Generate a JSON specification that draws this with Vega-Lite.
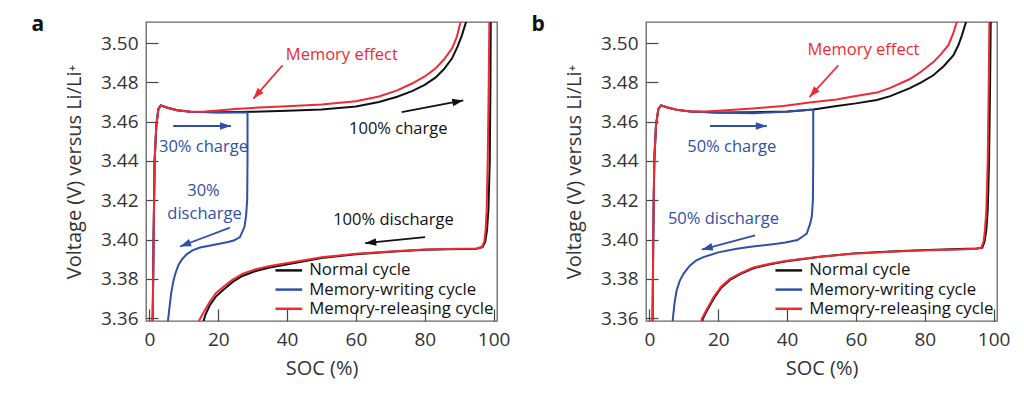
{
  "$schema": "https://vega.github.io/schema/vega-lite/v6.json",
  "padding": {"left": 30, "top": 13, "right": 5, "bottom": 5},
  "datasets": {
    "curves": [
      {"p":"a","c":"Normal cycle","k":"ch","soc":0.9,"v":3.352},{"p":"a","c":"Normal cycle","k":"ch","soc":1.2,"v":3.40},{"p":"a","c":"Normal cycle","k":"ch","soc":1.5,"v":3.44},{"p":"a","c":"Normal cycle","k":"ch","soc":2.0,"v":3.458},{"p":"a","c":"Normal cycle","k":"ch","soc":2.6,"v":3.4665},{"p":"a","c":"Normal cycle","k":"ch","soc":3.3,"v":3.4683},{"p":"a","c":"Normal cycle","k":"ch","soc":5,"v":3.4672},{"p":"a","c":"Normal cycle","k":"ch","soc":8,"v":3.4658},{"p":"a","c":"Normal cycle","k":"ch","soc":12,"v":3.4651},{"p":"a","c":"Normal cycle","k":"ch","soc":20,"v":3.4648},{"p":"a","c":"Normal cycle","k":"ch","soc":30,"v":3.4650},{"p":"a","c":"Normal cycle","k":"ch","soc":40,"v":3.4655},{"p":"a","c":"Normal cycle","k":"ch","soc":50,"v":3.4662},{"p":"a","c":"Normal cycle","k":"ch","soc":60,"v":3.4677},{"p":"a","c":"Normal cycle","k":"ch","soc":66.7,"v":3.4700},{"p":"a","c":"Normal cycle","k":"ch","soc":72,"v":3.4727},{"p":"a","c":"Normal cycle","k":"ch","soc":76.3,"v":3.4755},{"p":"a","c":"Normal cycle","k":"ch","soc":80,"v":3.4787},{"p":"a","c":"Normal cycle","k":"ch","soc":83.1,"v":3.4824},{"p":"a","c":"Normal cycle","k":"ch","soc":85.5,"v":3.4865},{"p":"a","c":"Normal cycle","k":"ch","soc":87.9,"v":3.4921},{"p":"a","c":"Normal cycle","k":"ch","soc":89.5,"v":3.498},{"p":"a","c":"Normal cycle","k":"ch","soc":90.8,"v":3.5039},{"p":"a","c":"Normal cycle","k":"ch","soc":92,"v":3.5107},{"p":"a","c":"Normal cycle","k":"ch","soc":92.5,"v":3.515},
      {"p":"a","c":"Normal cycle","k":"dis","soc":99.2,"v":3.515},{"p":"a","c":"Normal cycle","k":"dis","soc":99.1,"v":3.48},{"p":"a","c":"Normal cycle","k":"dis","soc":98.9,"v":3.44},{"p":"a","c":"Normal cycle","k":"dis","soc":98.5,"v":3.415},{"p":"a","c":"Normal cycle","k":"dis","soc":98.1,"v":3.405},{"p":"a","c":"Normal cycle","k":"dis","soc":97.6,"v":3.399},{"p":"a","c":"Normal cycle","k":"dis","soc":96.8,"v":3.3962},{"p":"a","c":"Normal cycle","k":"dis","soc":95,"v":3.3954},{"p":"a","c":"Normal cycle","k":"dis","soc":90,"v":3.3952},{"p":"a","c":"Normal cycle","k":"dis","soc":80,"v":3.3949},{"p":"a","c":"Normal cycle","k":"dis","soc":70,"v":3.3938},{"p":"a","c":"Normal cycle","k":"dis","soc":60,"v":3.3925},{"p":"a","c":"Normal cycle","k":"dis","soc":50,"v":3.3906},{"p":"a","c":"Normal cycle","k":"dis","soc":40.6,"v":3.3876},{"p":"a","c":"Normal cycle","k":"dis","soc":35,"v":3.3858},{"p":"a","c":"Normal cycle","k":"dis","soc":30.9,"v":3.3840},{"p":"a","c":"Normal cycle","k":"dis","soc":27,"v":3.3815},{"p":"a","c":"Normal cycle","k":"dis","soc":24.2,"v":3.3785},{"p":"a","c":"Normal cycle","k":"dis","soc":21.5,"v":3.3745},{"p":"a","c":"Normal cycle","k":"dis","soc":19.3,"v":3.3710},{"p":"a","c":"Normal cycle","k":"dis","soc":17.5,"v":3.3665},{"p":"a","c":"Normal cycle","k":"dis","soc":16.2,"v":3.3615},{"p":"a","c":"Normal cycle","k":"dis","soc":15.5,"v":3.357},
      {"p":"a","c":"Memory-writing cycle","k":"ch","soc":0.9,"v":3.352},{"p":"a","c":"Memory-writing cycle","k":"ch","soc":1.2,"v":3.40},{"p":"a","c":"Memory-writing cycle","k":"ch","soc":1.5,"v":3.44},{"p":"a","c":"Memory-writing cycle","k":"ch","soc":2.0,"v":3.458},{"p":"a","c":"Memory-writing cycle","k":"ch","soc":2.6,"v":3.4665},{"p":"a","c":"Memory-writing cycle","k":"ch","soc":3.3,"v":3.4683},{"p":"a","c":"Memory-writing cycle","k":"ch","soc":5,"v":3.4672},{"p":"a","c":"Memory-writing cycle","k":"ch","soc":8,"v":3.4658},{"p":"a","c":"Memory-writing cycle","k":"ch","soc":12,"v":3.4650},{"p":"a","c":"Memory-writing cycle","k":"ch","soc":20,"v":3.4646},{"p":"a","c":"Memory-writing cycle","k":"ch","soc":28.5,"v":3.4646},
      {"p":"a","c":"Memory-writing cycle","k":"dis","soc":28.5,"v":3.4646},{"p":"a","c":"Memory-writing cycle","k":"dis","soc":28.5,"v":3.44},{"p":"a","c":"Memory-writing cycle","k":"dis","soc":28.4,"v":3.42},{"p":"a","c":"Memory-writing cycle","k":"dis","soc":28.1,"v":3.4125},{"p":"a","c":"Memory-writing cycle","k":"dis","soc":27.6,"v":3.4064},{"p":"a","c":"Memory-writing cycle","k":"dis","soc":26.3,"v":3.4013},{"p":"a","c":"Memory-writing cycle","k":"dis","soc":24.5,"v":3.3995},{"p":"a","c":"Memory-writing cycle","k":"dis","soc":22.5,"v":3.3987},{"p":"a","c":"Memory-writing cycle","k":"dis","soc":18.5,"v":3.3973},{"p":"a","c":"Memory-writing cycle","k":"dis","soc":14.7,"v":3.3960},{"p":"a","c":"Memory-writing cycle","k":"dis","soc":12.5,"v":3.3945},{"p":"a","c":"Memory-writing cycle","k":"dis","soc":10.8,"v":3.3925},{"p":"a","c":"Memory-writing cycle","k":"dis","soc":9.4,"v":3.3898},{"p":"a","c":"Memory-writing cycle","k":"dis","soc":8.4,"v":3.3870},{"p":"a","c":"Memory-writing cycle","k":"dis","soc":7.5,"v":3.3825},{"p":"a","c":"Memory-writing cycle","k":"dis","soc":6.9,"v":3.3785},{"p":"a","c":"Memory-writing cycle","k":"dis","soc":6.3,"v":3.3725},{"p":"a","c":"Memory-writing cycle","k":"dis","soc":5.8,"v":3.3650},{"p":"a","c":"Memory-writing cycle","k":"dis","soc":5.4,"v":3.3590},{"p":"a","c":"Memory-writing cycle","k":"dis","soc":5.3,"v":3.356},
      {"p":"a","c":"Memory-releasing cycle","k":"ch","soc":0.9,"v":3.352},{"p":"a","c":"Memory-releasing cycle","k":"ch","soc":1.2,"v":3.40},{"p":"a","c":"Memory-releasing cycle","k":"ch","soc":1.5,"v":3.44},{"p":"a","c":"Memory-releasing cycle","k":"ch","soc":2.0,"v":3.458},{"p":"a","c":"Memory-releasing cycle","k":"ch","soc":2.6,"v":3.4665},{"p":"a","c":"Memory-releasing cycle","k":"ch","soc":3.3,"v":3.4683},{"p":"a","c":"Memory-releasing cycle","k":"ch","soc":5,"v":3.4672},{"p":"a","c":"Memory-releasing cycle","k":"ch","soc":8,"v":3.4658},{"p":"a","c":"Memory-releasing cycle","k":"ch","soc":12,"v":3.4651},{"p":"a","c":"Memory-releasing cycle","k":"ch","soc":16,"v":3.4652},{"p":"a","c":"Memory-releasing cycle","k":"ch","soc":20,"v":3.4657},{"p":"a","c":"Memory-releasing cycle","k":"ch","soc":25,"v":3.4664},{"p":"a","c":"Memory-releasing cycle","k":"ch","soc":30,"v":3.4670},{"p":"a","c":"Memory-releasing cycle","k":"ch","soc":40,"v":3.4678},{"p":"a","c":"Memory-releasing cycle","k":"ch","soc":50,"v":3.4687},{"p":"a","c":"Memory-releasing cycle","k":"ch","soc":60,"v":3.4704},{"p":"a","c":"Memory-releasing cycle","k":"ch","soc":66.7,"v":3.4728},{"p":"a","c":"Memory-releasing cycle","k":"ch","soc":72,"v":3.4759},{"p":"a","c":"Memory-releasing cycle","k":"ch","soc":76.3,"v":3.4794},{"p":"a","c":"Memory-releasing cycle","k":"ch","soc":80,"v":3.4830},{"p":"a","c":"Memory-releasing cycle","k":"ch","soc":83.1,"v":3.4870},{"p":"a","c":"Memory-releasing cycle","k":"ch","soc":85.5,"v":3.4915},{"p":"a","c":"Memory-releasing cycle","k":"ch","soc":87.9,"v":3.4972},{"p":"a","c":"Memory-releasing cycle","k":"ch","soc":89.3,"v":3.503},{"p":"a","c":"Memory-releasing cycle","k":"ch","soc":90.3,"v":3.5099},{"p":"a","c":"Memory-releasing cycle","k":"ch","soc":90.9,"v":3.515},
      {"p":"a","c":"Memory-releasing cycle","k":"dis","soc":98.8,"v":3.515},{"p":"a","c":"Memory-releasing cycle","k":"dis","soc":98.6,"v":3.48},{"p":"a","c":"Memory-releasing cycle","k":"dis","soc":98.3,"v":3.44},{"p":"a","c":"Memory-releasing cycle","k":"dis","soc":98.0,"v":3.415},{"p":"a","c":"Memory-releasing cycle","k":"dis","soc":97.7,"v":3.405},{"p":"a","c":"Memory-releasing cycle","k":"dis","soc":97.3,"v":3.399},{"p":"a","c":"Memory-releasing cycle","k":"dis","soc":96.6,"v":3.3962},{"p":"a","c":"Memory-releasing cycle","k":"dis","soc":95,"v":3.3955},{"p":"a","c":"Memory-releasing cycle","k":"dis","soc":90,"v":3.3953},{"p":"a","c":"Memory-releasing cycle","k":"dis","soc":80,"v":3.3950},{"p":"a","c":"Memory-releasing cycle","k":"dis","soc":70,"v":3.3940},{"p":"a","c":"Memory-releasing cycle","k":"dis","soc":60,"v":3.3928},{"p":"a","c":"Memory-releasing cycle","k":"dis","soc":50,"v":3.3910},{"p":"a","c":"Memory-releasing cycle","k":"dis","soc":40.6,"v":3.3882},{"p":"a","c":"Memory-releasing cycle","k":"dis","soc":35,"v":3.3866},{"p":"a","c":"Memory-releasing cycle","k":"dis","soc":30.9,"v":3.3850},{"p":"a","c":"Memory-releasing cycle","k":"dis","soc":27,"v":3.3826},{"p":"a","c":"Memory-releasing cycle","k":"dis","soc":24.2,"v":3.3797},{"p":"a","c":"Memory-releasing cycle","k":"dis","soc":21.5,"v":3.3760},{"p":"a","c":"Memory-releasing cycle","k":"dis","soc":19.3,"v":3.3727},{"p":"a","c":"Memory-releasing cycle","k":"dis","soc":17.5,"v":3.3683},{"p":"a","c":"Memory-releasing cycle","k":"dis","soc":15.5,"v":3.3623},{"p":"a","c":"Memory-releasing cycle","k":"dis","soc":14.5,"v":3.3590},{"p":"a","c":"Memory-releasing cycle","k":"dis","soc":14.2,"v":3.357},
      {"p":"b","c":"Normal cycle","k":"ch","soc":0.9,"v":3.352},{"p":"b","c":"Normal cycle","k":"ch","soc":1.1,"v":3.40},{"p":"b","c":"Normal cycle","k":"ch","soc":1.4,"v":3.44},{"p":"b","c":"Normal cycle","k":"ch","soc":1.9,"v":3.458},{"p":"b","c":"Normal cycle","k":"ch","soc":2.6,"v":3.4665},{"p":"b","c":"Normal cycle","k":"ch","soc":3.4,"v":3.4683},{"p":"b","c":"Normal cycle","k":"ch","soc":5,"v":3.4673},{"p":"b","c":"Normal cycle","k":"ch","soc":8,"v":3.4660},{"p":"b","c":"Normal cycle","k":"ch","soc":12,"v":3.4652},{"p":"b","c":"Normal cycle","k":"ch","soc":20,"v":3.4647},{"p":"b","c":"Normal cycle","k":"ch","soc":30,"v":3.4648},{"p":"b","c":"Normal cycle","k":"ch","soc":40,"v":3.4652},{"p":"b","c":"Normal cycle","k":"ch","soc":47.7,"v":3.4662},{"p":"b","c":"Normal cycle","k":"ch","soc":54.4,"v":3.4680},{"p":"b","c":"Normal cycle","k":"ch","soc":60,"v":3.4693},{"p":"b","c":"Normal cycle","k":"ch","soc":66.1,"v":3.4710},{"p":"b","c":"Normal cycle","k":"ch","soc":70,"v":3.4730},{"p":"b","c":"Normal cycle","k":"ch","soc":75.7,"v":3.4771},{"p":"b","c":"Normal cycle","k":"ch","soc":79,"v":3.4800},{"p":"b","c":"Normal cycle","k":"ch","soc":82.5,"v":3.4836},{"p":"b","c":"Normal cycle","k":"ch","soc":85.5,"v":3.4882},{"p":"b","c":"Normal cycle","k":"ch","soc":88.3,"v":3.4937},{"p":"b","c":"Normal cycle","k":"ch","soc":89.8,"v":3.499},{"p":"b","c":"Normal cycle","k":"ch","soc":90.8,"v":3.5039},{"p":"b","c":"Normal cycle","k":"ch","soc":92,"v":3.5107},{"p":"b","c":"Normal cycle","k":"ch","soc":92.5,"v":3.515},
      {"p":"b","c":"Normal cycle","k":"dis","soc":99.2,"v":3.515},{"p":"b","c":"Normal cycle","k":"dis","soc":99.0,"v":3.48},{"p":"b","c":"Normal cycle","k":"dis","soc":98.7,"v":3.44},{"p":"b","c":"Normal cycle","k":"dis","soc":98.3,"v":3.415},{"p":"b","c":"Normal cycle","k":"dis","soc":97.9,"v":3.405},{"p":"b","c":"Normal cycle","k":"dis","soc":97.4,"v":3.399},{"p":"b","c":"Normal cycle","k":"dis","soc":96.7,"v":3.3958},{"p":"b","c":"Normal cycle","k":"dis","soc":95,"v":3.3955},{"p":"b","c":"Normal cycle","k":"dis","soc":90,"v":3.3952},{"p":"b","c":"Normal cycle","k":"dis","soc":78.6,"v":3.3946},{"p":"b","c":"Normal cycle","k":"dis","soc":70,"v":3.3940},{"p":"b","c":"Normal cycle","k":"dis","soc":59.3,"v":3.3930},{"p":"b","c":"Normal cycle","k":"dis","soc":49.6,"v":3.3913},{"p":"b","c":"Normal cycle","k":"dis","soc":39.9,"v":3.3890},{"p":"b","c":"Normal cycle","k":"dis","soc":35,"v":3.3874},{"p":"b","c":"Normal cycle","k":"dis","soc":30.2,"v":3.3854},{"p":"b","c":"Normal cycle","k":"dis","soc":26.5,"v":3.3826},{"p":"b","c":"Normal cycle","k":"dis","soc":23.4,"v":3.3795},{"p":"b","c":"Normal cycle","k":"dis","soc":20.8,"v":3.3754},{"p":"b","c":"Normal cycle","k":"dis","soc":18.8,"v":3.3703},{"p":"b","c":"Normal cycle","k":"dis","soc":17.0,"v":3.3648},{"p":"b","c":"Normal cycle","k":"dis","soc":15.5,"v":3.3597},{"p":"b","c":"Normal cycle","k":"dis","soc":15.2,"v":3.357},
      {"p":"b","c":"Memory-writing cycle","k":"ch","soc":0.9,"v":3.352},{"p":"b","c":"Memory-writing cycle","k":"ch","soc":1.1,"v":3.40},{"p":"b","c":"Memory-writing cycle","k":"ch","soc":1.4,"v":3.44},{"p":"b","c":"Memory-writing cycle","k":"ch","soc":1.9,"v":3.458},{"p":"b","c":"Memory-writing cycle","k":"ch","soc":2.6,"v":3.4665},{"p":"b","c":"Memory-writing cycle","k":"ch","soc":3.4,"v":3.4683},{"p":"b","c":"Memory-writing cycle","k":"ch","soc":5,"v":3.4673},{"p":"b","c":"Memory-writing cycle","k":"ch","soc":8,"v":3.4660},{"p":"b","c":"Memory-writing cycle","k":"ch","soc":12,"v":3.4652},{"p":"b","c":"Memory-writing cycle","k":"ch","soc":20,"v":3.4645},{"p":"b","c":"Memory-writing cycle","k":"ch","soc":30,"v":3.4643},{"p":"b","c":"Memory-writing cycle","k":"ch","soc":40,"v":3.4650},{"p":"b","c":"Memory-writing cycle","k":"ch","soc":47.6,"v":3.4662},
      {"p":"b","c":"Memory-writing cycle","k":"dis","soc":47.6,"v":3.4662},{"p":"b","c":"Memory-writing cycle","k":"dis","soc":47.6,"v":3.44},{"p":"b","c":"Memory-writing cycle","k":"dis","soc":47.5,"v":3.42},{"p":"b","c":"Memory-writing cycle","k":"dis","soc":47.2,"v":3.412},{"p":"b","c":"Memory-writing cycle","k":"dis","soc":46.7,"v":3.4081},{"p":"b","c":"Memory-writing cycle","k":"dis","soc":45.7,"v":3.4030},{"p":"b","c":"Memory-writing cycle","k":"dis","soc":43,"v":3.3998},{"p":"b","c":"Memory-writing cycle","k":"dis","soc":39.5,"v":3.3985},{"p":"b","c":"Memory-writing cycle","k":"dis","soc":37,"v":3.3979},{"p":"b","c":"Memory-writing cycle","k":"dis","soc":30,"v":3.3965},{"p":"b","c":"Memory-writing cycle","k":"dis","soc":25.4,"v":3.3954},{"p":"b","c":"Memory-writing cycle","k":"dis","soc":20,"v":3.3935},{"p":"b","c":"Memory-writing cycle","k":"dis","soc":15.7,"v":3.3911},{"p":"b","c":"Memory-writing cycle","k":"dis","soc":13.5,"v":3.3893},{"p":"b","c":"Memory-writing cycle","k":"dis","soc":11.8,"v":3.3869},{"p":"b","c":"Memory-writing cycle","k":"dis","soc":10.7,"v":3.3845},{"p":"b","c":"Memory-writing cycle","k":"dis","soc":9.9,"v":3.3826},{"p":"b","c":"Memory-writing cycle","k":"dis","soc":8.8,"v":3.3790},{"p":"b","c":"Memory-writing cycle","k":"dis","soc":7.9,"v":3.3741},{"p":"b","c":"Memory-writing cycle","k":"dis","soc":7.3,"v":3.3680},{"p":"b","c":"Memory-writing cycle","k":"dis","soc":6.8,"v":3.3597},{"p":"b","c":"Memory-writing cycle","k":"dis","soc":6.7,"v":3.356},
      {"p":"b","c":"Memory-releasing cycle","k":"ch","soc":0.9,"v":3.352},{"p":"b","c":"Memory-releasing cycle","k":"ch","soc":1.1,"v":3.40},{"p":"b","c":"Memory-releasing cycle","k":"ch","soc":1.4,"v":3.44},{"p":"b","c":"Memory-releasing cycle","k":"ch","soc":1.9,"v":3.458},{"p":"b","c":"Memory-releasing cycle","k":"ch","soc":2.6,"v":3.4665},{"p":"b","c":"Memory-releasing cycle","k":"ch","soc":3.4,"v":3.4683},{"p":"b","c":"Memory-releasing cycle","k":"ch","soc":5,"v":3.4673},{"p":"b","c":"Memory-releasing cycle","k":"ch","soc":8,"v":3.4660},{"p":"b","c":"Memory-releasing cycle","k":"ch","soc":12,"v":3.4652},{"p":"b","c":"Memory-releasing cycle","k":"ch","soc":16,"v":3.4652},{"p":"b","c":"Memory-releasing cycle","k":"ch","soc":20,"v":3.4656},{"p":"b","c":"Memory-releasing cycle","k":"ch","soc":30,"v":3.4667},{"p":"b","c":"Memory-releasing cycle","k":"ch","soc":38.9,"v":3.4680},{"p":"b","c":"Memory-releasing cycle","k":"ch","soc":46.5,"v":3.4697},{"p":"b","c":"Memory-releasing cycle","k":"ch","soc":54.4,"v":3.4713},{"p":"b","c":"Memory-releasing cycle","k":"ch","soc":58.3,"v":3.4726},{"p":"b","c":"Memory-releasing cycle","k":"ch","soc":66.1,"v":3.4748},{"p":"b","c":"Memory-releasing cycle","k":"ch","soc":70,"v":3.4772},{"p":"b","c":"Memory-releasing cycle","k":"ch","soc":75.7,"v":3.4817},{"p":"b","c":"Memory-releasing cycle","k":"ch","soc":79,"v":3.4855},{"p":"b","c":"Memory-releasing cycle","k":"ch","soc":82.5,"v":3.4903},{"p":"b","c":"Memory-releasing cycle","k":"ch","soc":84.8,"v":3.4945},{"p":"b","c":"Memory-releasing cycle","k":"ch","soc":86.9,"v":3.4990},{"p":"b","c":"Memory-releasing cycle","k":"ch","soc":88.3,"v":3.505},{"p":"b","c":"Memory-releasing cycle","k":"ch","soc":89.3,"v":3.5107},{"p":"b","c":"Memory-releasing cycle","k":"ch","soc":89.8,"v":3.515},
      {"p":"b","c":"Memory-releasing cycle","k":"dis","soc":98.8,"v":3.515},{"p":"b","c":"Memory-releasing cycle","k":"dis","soc":98.6,"v":3.48},{"p":"b","c":"Memory-releasing cycle","k":"dis","soc":98.3,"v":3.44},{"p":"b","c":"Memory-releasing cycle","k":"dis","soc":97.9,"v":3.415},{"p":"b","c":"Memory-releasing cycle","k":"dis","soc":97.5,"v":3.405},{"p":"b","c":"Memory-releasing cycle","k":"dis","soc":97.1,"v":3.399},{"p":"b","c":"Memory-releasing cycle","k":"dis","soc":96.4,"v":3.3958},{"p":"b","c":"Memory-releasing cycle","k":"dis","soc":95,"v":3.3953},{"p":"b","c":"Memory-releasing cycle","k":"dis","soc":90,"v":3.3950},{"p":"b","c":"Memory-releasing cycle","k":"dis","soc":78.6,"v":3.3945},{"p":"b","c":"Memory-releasing cycle","k":"dis","soc":70,"v":3.3938},{"p":"b","c":"Memory-releasing cycle","k":"dis","soc":59.3,"v":3.3928},{"p":"b","c":"Memory-releasing cycle","k":"dis","soc":49.6,"v":3.3913},{"p":"b","c":"Memory-releasing cycle","k":"dis","soc":39.9,"v":3.3892},{"p":"b","c":"Memory-releasing cycle","k":"dis","soc":35,"v":3.3877},{"p":"b","c":"Memory-releasing cycle","k":"dis","soc":30.2,"v":3.3858},{"p":"b","c":"Memory-releasing cycle","k":"dis","soc":26.5,"v":3.3830},{"p":"b","c":"Memory-releasing cycle","k":"dis","soc":23.4,"v":3.3800},{"p":"b","c":"Memory-releasing cycle","k":"dis","soc":20.8,"v":3.3760},{"p":"b","c":"Memory-releasing cycle","k":"dis","soc":18.6,"v":3.3707},{"p":"b","c":"Memory-releasing cycle","k":"dis","soc":16.8,"v":3.3650},{"p":"b","c":"Memory-releasing cycle","k":"dis","soc":15.2,"v":3.3597},{"p":"b","c":"Memory-releasing cycle","k":"dis","soc":14.9,"v":3.357}
    ],
    "notes": [
      {"p":"a","c":"Memory-releasing cycle","t":"Memory effect","soc":55.9,"v":3.4937},
      {"p":"a","c":"Normal cycle","t":"100% charge","soc":72.3,"v":3.4564},
      {"p":"a","c":"Memory-writing cycle","t":"30% charge","soc":15.7,"v":3.4471},
      {"p":"a","c":"Memory-writing cycle","t":"30%","soc":15.7,"v":3.4245},
      {"p":"a","c":"Memory-writing cycle","t":"discharge","soc":16.0,"v":3.4132},
      {"p":"a","c":"Normal cycle","t":"100% discharge","soc":70.9,"v":3.4098},
      {"p":"b","c":"Memory-releasing cycle","t":"Memory effect","soc":62.2,"v":3.4963},
      {"p":"b","c":"Memory-writing cycle","t":"50% charge","soc":23.9,"v":3.4471},
      {"p":"b","c":"Memory-writing cycle","t":"50% discharge","soc":21.5,"v":3.4106}
    ],
    "arrows": [
      {"p":"a","c":"Memory-releasing cycle","soc":38.7,"v":3.4887,"soc2":30.2,"v2":3.4717},
      {"p":"a","c":"Normal cycle","soc":73.3,"v":3.4649,"soc2":91.2,"v2":3.4708},
      {"p":"a","c":"Memory-writing cycle","soc":6.9,"v":3.4578,"soc2":23.7,"v2":3.4578},
      {"p":"a","c":"Memory-writing cycle","soc":23.4,"v":3.4061,"soc2":8.9,"v2":3.3965},
      {"p":"a","c":"Normal cycle","soc":80.1,"v":3.4013,"soc2":62.7,"v2":3.3982},
      {"p":"b","c":"Memory-releasing cycle","soc":54.9,"v":3.4887,"soc2":46.5,"v2":3.4725},
      {"p":"b","c":"Memory-writing cycle","soc":17.6,"v":3.4578,"soc2":34.1,"v2":3.4578},
      {"p":"b","c":"Memory-writing cycle","soc":30.7,"v":3.4021,"soc2":15.2,"v2":3.3949}
    ]
  },
  "hconcat": [
    {
      "width": 351, "height": 299,
      "title": {"text": "a", "anchor": "start", "frame": "bounds", "dx": -33, "dy": 17, "fontSize": 21, "fontWeight": "bold", "color": "#111"},
      "layer": [
        {
          "data": {"name": "curves"},
          "transform": [{"filter": "datum.p === 'a'"}, {"window": [{"op": "row_number", "as": "i"}]}],
          "mark": {"type": "line", "strokeWidth": 2, "clip": true},
          "encoding": {
            "x": {"field": "soc", "type": "quantitative", "scale": {"domain": [-1, 101], "nice": false, "zero": false}, "axis": {"values": [0, 20, 40, 60, 80, 100], "title": "SOC (%)", "labelPadding": 21, "titlePadding": 9}},
            "y": {"field": "v", "type": "quantitative", "scale": {"domain": [3.3586, 3.5107], "nice": false, "zero": false}, "axis": {"values": [3.36, 3.38, 3.40, 3.42, 3.44, 3.46, 3.48, 3.50], "format": ".2f", "title": "Voltage (V) versus Li/Li⁺", "labelPadding": 20, "titlePadding": 16}},
            "color": {"field": "c", "type": "nominal", "scale": {"domain": ["Normal cycle", "Memory-writing cycle", "Memory-releasing cycle"], "range": ["#111111", "#3050A8", "#EE2A35"]}, "legend": {"title": null, "orient": "none", "legendX": 127, "legendY": 240}},
            "detail": {"field": "k"},
            "order": {"field": "i", "type": "quantitative"}
          }
        },
        {
          "data": {"name": "arrows"},
          "transform": [{"filter": "datum.p === 'a'"}],
          "mark": {"type": "rule", "strokeWidth": 1.8},
          "encoding": {
            "x": {"field": "soc", "type": "quantitative"}, "y": {"field": "v", "type": "quantitative"},
            "x2": {"field": "soc2"}, "y2": {"field": "v2"},
            "color": {"field": "c", "type": "nominal", "legend": null}
          }
        },
        {
          "data": {"name": "arrows"},
          "transform": [{"filter": "datum.p === 'a'"}, {"calculate": "atan2(-(datum.v2 - datum.v) * 1966, (datum.soc2 - datum.soc) * 3.441) * 180 / PI", "as": "ang"}],
          "mark": {"type": "point", "filled": true, "opacity": 1, "size": 121, "shape": "M0,0L-2,-0.7L-2,0.7Z"},
          "encoding": {
            "x": {"field": "soc2", "type": "quantitative"}, "y": {"field": "v2", "type": "quantitative"},
            "angle": {"field": "ang", "type": "quantitative", "scale": null},
            "color": {"field": "c", "type": "nominal", "legend": null}
          }
        },
        {
          "data": {"name": "notes"},
          "transform": [{"filter": "datum.p === 'a'"}],
          "mark": {"type": "text", "fontSize": 16.5, "align": "center", "baseline": "middle"},
          "encoding": {
            "x": {"field": "soc", "type": "quantitative"}, "y": {"field": "v", "type": "quantitative"},
            "text": {"field": "t"},
            "color": {"field": "c", "type": "nominal", "legend": null}
          }
        }
      ]
    },
    {
      "width": 351, "height": 299,
      "title": {"text": "b", "anchor": "start", "frame": "bounds", "dx": -33, "dy": 17, "fontSize": 21, "fontWeight": "bold", "color": "#111"},
      "layer": [
        {
          "data": {"name": "curves"},
          "transform": [{"filter": "datum.p === 'b'"}, {"window": [{"op": "row_number", "as": "i"}]}],
          "mark": {"type": "line", "strokeWidth": 2, "clip": true},
          "encoding": {
            "x": {"field": "soc", "type": "quantitative", "scale": {"domain": [-1, 101], "nice": false, "zero": false}, "axis": {"values": [0, 20, 40, 60, 80, 100], "title": "SOC (%)", "labelPadding": 21, "titlePadding": 9}},
            "y": {"field": "v", "type": "quantitative", "scale": {"domain": [3.3586, 3.5107], "nice": false, "zero": false}, "axis": {"values": [3.36, 3.38, 3.40, 3.42, 3.44, 3.46, 3.48, 3.50], "format": ".2f", "title": "Voltage (V) versus Li/Li⁺", "labelPadding": 20, "titlePadding": 16}},
            "color": {"field": "c", "type": "nominal", "scale": {"domain": ["Normal cycle", "Memory-writing cycle", "Memory-releasing cycle"], "range": ["#111111", "#3050A8", "#EE2A35"]}, "legend": {"title": null, "orient": "none", "legendX": 127, "legendY": 240}},
            "detail": {"field": "k"},
            "order": {"field": "i", "type": "quantitative"}
          }
        },
        {
          "data": {"name": "arrows"},
          "transform": [{"filter": "datum.p === 'b'"}],
          "mark": {"type": "rule", "strokeWidth": 1.8},
          "encoding": {
            "x": {"field": "soc", "type": "quantitative"}, "y": {"field": "v", "type": "quantitative"},
            "x2": {"field": "soc2"}, "y2": {"field": "v2"},
            "color": {"field": "c", "type": "nominal", "legend": null}
          }
        },
        {
          "data": {"name": "arrows"},
          "transform": [{"filter": "datum.p === 'b'"}, {"calculate": "atan2(-(datum.v2 - datum.v) * 1966, (datum.soc2 - datum.soc) * 3.441) * 180 / PI", "as": "ang"}],
          "mark": {"type": "point", "filled": true, "opacity": 1, "size": 121, "shape": "M0,0L-2,-0.7L-2,0.7Z"},
          "encoding": {
            "x": {"field": "soc2", "type": "quantitative"}, "y": {"field": "v2", "type": "quantitative"},
            "angle": {"field": "ang", "type": "quantitative", "scale": null},
            "color": {"field": "c", "type": "nominal", "legend": null}
          }
        },
        {
          "data": {"name": "notes"},
          "transform": [{"filter": "datum.p === 'b'"}],
          "mark": {"type": "text", "fontSize": 16.5, "align": "center", "baseline": "middle"},
          "encoding": {
            "x": {"field": "soc", "type": "quantitative"}, "y": {"field": "v", "type": "quantitative"},
            "text": {"field": "t"},
            "color": {"field": "c", "type": "nominal", "legend": null}
          }
        }
      ]
    }
  ],
  "spacing": 19,
  "resolve": {"scale": {"color": "independent"}},
  "config": {
    "font": "Open Sans",
    "view": {"stroke": "#666666", "strokeWidth": 1.3},
    "axis": {"grid": false, "domain": false, "tickColor": "#444444", "tickSize": -12, "tickWidth": 1.2, "labelFontSize": 19, "labelColor": "#333333", "titleFontSize": 20, "titleFontWeight": "normal", "titleColor": "#333333"},
    "legend": {"labelFontSize": 16.8, "labelColor": "#111111", "labelLimit": 400, "symbolType": "M-2.2,0H2.2", "symbolSize": 147, "symbolStrokeWidth": 2.5, "symbolOffset": 7.4, "rowPadding": 1.2, "labelOffset": 12, "padding": 0}
  }
}
